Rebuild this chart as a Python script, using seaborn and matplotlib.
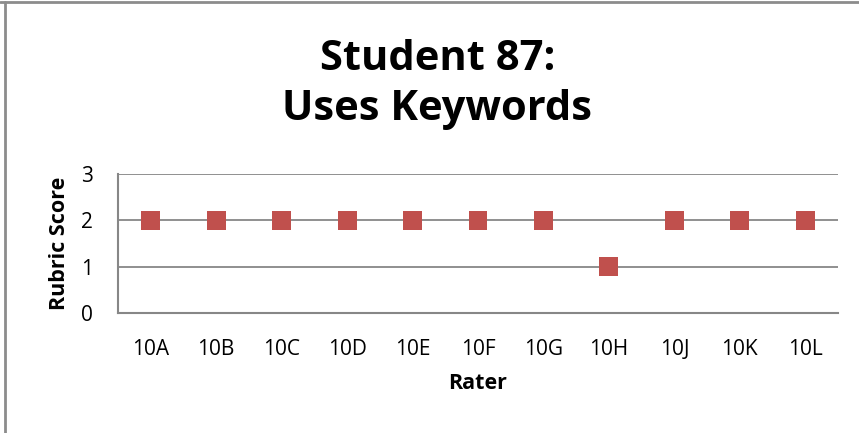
import matplotlib
matplotlib.use("Agg")
import matplotlib.pyplot as plt
from matplotlib.lines import Line2D
import numpy as np
import pandas as pd
import seaborn as sns

raters = ["10A", "10B", "10C", "10D", "10E", "10F", "10G", "10H", "10J", "10K", "10L"]
scores = [2, 2, 2, 2, 2, 2, 2, 1, 2, 2, 2]
y_ticks = [0, 1, 2, 3]

sns.set_theme(style="white")
plt.rcParams["font.family"] = ["Open Sans", "DejaVu Sans"]
plt.rcParams["text.color"] = "black"
plt.rcParams["axes.labelcolor"] = "black"

df = pd.DataFrame({"Rater": raters, "Score": scores})

fig = plt.figure(figsize=(8.59, 4.33), dpi=100)
ax = fig.add_axes([0.1374, 0.2771, 0.9756 - 0.1374, 0.3211])

grid_col = "#878787"
sns.scatterplot(data=df, x="Rater", y="Score", marker="s", s=185,
                color="#C0504D", edgecolor="none", ax=ax, zorder=3, legend=False)

n = len(raters)
ax.set_xlim(-0.5, n - 0.5)
ax.set_ylim(0, 3)
ax.set_yticks(y_ticks)
ax.set_yticklabels([str(v) for v in y_ticks], fontsize=15, color="black")
ax.set_xticks(range(n))
ax.set_xticklabels(raters, fontsize=15, color="black")
ax.set_xticks(np.arange(-0.5, n, 1.0), minor=True)
ax.tick_params(axis="x", which="major", length=0, pad=19)
ax.tick_params(axis="x", which="minor", length=6, width=1.5, color=grid_col, direction="out")
ax.tick_params(axis="y", which="major", length=6, width=1.5, color=grid_col, direction="out", pad=12)
ax.grid(axis="y", color=grid_col, linewidth=1.3)
ax.set_axisbelow(True)

for side in ["top", "right"]:
    ax.spines[side].set_visible(False)
for side in ["left", "bottom"]:
    ax.spines[side].set_color(grid_col)
    ax.spines[side].set_linewidth(1.5)

ax.set_xlabel("Rater", fontsize=15.5, fontweight="bold", labelpad=9)
ax.set_ylabel("Rubric Score", fontsize=15.5, fontweight="bold", labelpad=8)

fig.text(0.509, 1 - 60 / 433, "Student 87:", ha="center", va="center",
         fontsize=30, fontweight="bold")
fig.text(0.509, 1 - 110 / 433, "Uses Keywords", ha="center", va="center",
         fontsize=30, fontweight="bold")

# frame lines along the top and left edges
fig.add_artist(Line2D([0, 1], [1 - 2 / 433, 1 - 2 / 433], transform=fig.transFigure,
                      color="#8c8c8c", linewidth=2))
fig.add_artist(Line2D([5 / 859, 5 / 859], [0, 1 - 2 / 433], transform=fig.transFigure,
                      color="#8c8c8c", linewidth=2))

fig.savefig("out.png", dpi=100, facecolor="white")
